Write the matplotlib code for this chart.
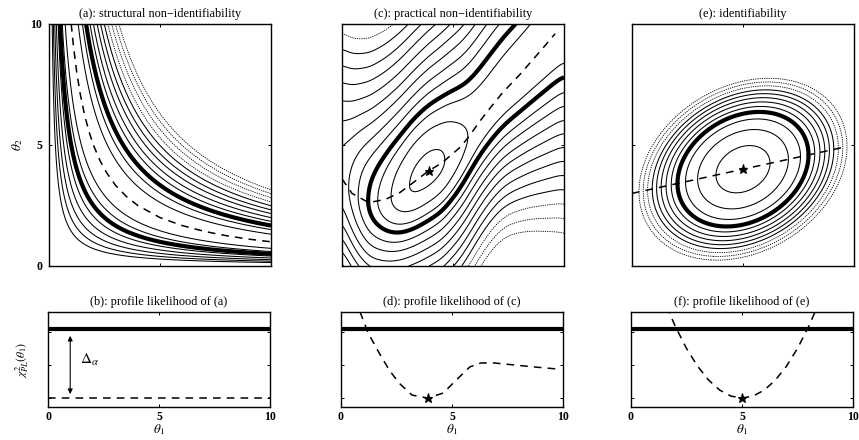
import numpy as np
import matplotlib
matplotlib.use("Agg")
import matplotlib.pyplot as plt

plt.rcParams['font.family'] = ['Liberation Serif', 'DejaVu Serif']
plt.rcParams['mathtext.fontset'] = 'stix'

# ---------------- data ----------------
THRESH = 2.09                     # Delta_alpha, thick threshold line

# (a) structural non-identifiability: ridge theta1*theta2 = const
a_ridge_prod = 10.0
a_width = 0.926                   # spread in sqrt(theta1*theta2) at threshold
a_levels_upper = [0.25, 0.6, 1.5, 2.0, 2.6, 3.2, 3.9]          # units of threshold
a_levels_upper_faint = [4.6, 5.4, 6.2, 7.0]
a_levels_lower = [0.25, 0.6, 1.5, 2.1, 2.8, 3.6, 4.5]
a_ridge_x = [1.0, 1.1, 1.25, 1.4, 1.6, 1.8, 2.0, 2.3, 2.6, 3.0, 3.5, 4.0, 5.0, 6.0, 7.0, 8.0, 9.0, 10.0]
a_ridge_y = [10.0, 9.09, 8.0, 7.14, 6.25, 5.56, 5.0, 4.35, 3.85, 3.33, 2.86, 2.5, 2.0, 1.67, 1.43, 1.25, 1.11, 1.0]

# (b) profile of (a): flat
b_x = [0.0, 10.0]
b_y = [0.0, 0.0]

# (c)/(d) practical non-identifiability: profile value g and profile path h
c_prof_x = [0.0, 0.3, 0.7, 0.86, 1.22, 1.72, 2.17, 2.62, 3.2, 3.9, 4.6, 5.2, 5.8, 6.3, 6.9, 7.8, 8.7, 9.7, 10.0]
c_prof_y = [4.6, 3.9, 2.95, 2.6, 1.97, 1.36, 0.85, 0.45, 0.09, 0.0, 0.15, 0.55, 0.94, 1.06, 1.06, 1.0, 0.94, 0.88, 0.87]
c_path_x = [0.0, 0.45, 1.2, 1.95, 2.6, 3.2, 3.9, 4.5, 5.34, 5.7, 6.24, 6.7, 7.24, 8.0, 9.0, 9.6, 10.0]
c_path_y = [3.6, 3.0, 2.62, 2.75, 3.03, 3.44, 3.93, 4.26, 4.92, 5.33, 6.02, 6.56, 7.17, 7.9, 8.95, 9.6, 10.0]
c_curv_x = [0.0, 2.5, 4.0, 5.5, 7.0, 8.5, 10.0]
c_curv_up = [0.3, 0.3, 0.28, 0.23, 0.2, 0.22, 0.25]
c_curv_low = [0.6, 0.6, 0.47, 0.5, 0.6, 0.4, 0.25]
c_levels = [0.1, 0.4, 0.72, 1.4, 1.85, 2.4, 3.0, 3.7, 4.5, 5.4, 6.4]
c_levels_faint = [7.5, 8.7, 10.0]
c_best = (3.9, 3.93)

# (e)/(f) identifiability: quadratic bowl
e_center = (5.0, 4.0)
e_quad = (0.256, -0.0796, 0.398)          # a, b, c
e_levels = [0.17, 0.48, 0.77, 1.2, 1.38, 1.56, 1.74, 1.92]
e_levels_faint = [2.12, 2.32, 2.52]
e_path_x = [0.0, 9.5]
e_path_y = [3.0, 4.9]
f_x = [1.6, 2.0, 2.5, 3.0, 3.5, 4.0, 4.5, 5.0, 5.5, 6.0, 6.5, 7.0, 7.5, 8.0, 8.4]
f_y = [2.77, 2.16, 1.5, 0.96, 0.54, 0.24, 0.06, 0.0, 0.06, 0.24, 0.54, 0.96, 1.5, 2.16, 2.77]

ticks = [0, 5, 10]
tick_labels = ['0', '5', '10']

# ---------------- helpers ----------------
grid = np.linspace(0, 10, 401)
T1, T2 = np.meshgrid(grid, grid)


def smooth_on_grid(xp, yp, sigma=0.25):
    y = np.interp(grid, xp, yp)
    step = grid[1] - grid[0]
    n = int(4 * sigma / step)
    k = np.exp(-0.5 * (np.arange(-n, n + 1) * step / sigma) ** 2)
    k /= k.sum()
    ypad = np.pad(y, n, mode='edge')
    return np.convolve(ypad, k, mode='valid')


def style_box(ax, ylim, yt):
    ax.set_xlim(0, 10)
    ax.set_ylim(*ylim)
    ax.set_xticks(ticks)
    ax.set_yticks(yt)
    ax.tick_params(direction='in', length=2.5, width=0.7, top=True, right=True,
                   labelsize=8.5)
    for s in ax.spines.values():
        s.set_linewidth(1.0)


fig = plt.figure(figsize=(8.59, 4.40), dpi=100)
W = 222 / 859
top_b, top_h = 174 / 440, 242 / 440
bot_b, bot_h = 33 / 440, 95 / 440
lefts = [49 / 859, 342 / 859, 632 / 859]

thin_kw = dict(colors='k', linewidths=0.75)
faint_kw = dict(colors='k', linewidths=0.6, linestyles=[(0, (1.5, 1.2))])
thick_kw = dict(colors='k', linewidths=3.0)
dash_kw = dict(color='k', lw=1.1, ls=(0, (5, 4)))
title_fs = 8.8

# (a)
ax = fig.add_axes([lefts[0], top_b, W, top_h])
qa_dev = (np.sqrt(T1 * T2) - np.sqrt(a_ridge_prod)) / a_width
Za = qa_dev ** 2
Za_up = np.where(qa_dev >= 0, Za, np.nan)
ax.contour(T1, T2, Za_up, levels=a_levels_upper, **thin_kw)
ax.contour(T1, T2, Za_up, levels=a_levels_upper_faint, **faint_kw)
ax.contour(T1, T2, np.where(qa_dev < 0, Za, np.nan), levels=a_levels_lower, **thin_kw)
ax.contour(T1, T2, Za, levels=[1.0], **thick_kw)
ax.plot(a_ridge_x, a_ridge_y, **dash_kw)
style_box(ax, (0, 10), ticks)
ax.set_xticklabels([])
ax.set_yticklabels(tick_labels, fontweight='bold')
ax.tick_params(axis='y', pad=5)
ax.set_title('(a): structural non\u2212identifiability', fontsize=title_fs, pad=5)

# (c)
ax = fig.add_axes([lefts[1], top_b, W, top_h])
g = smooth_on_grid(c_prof_x, c_prof_y)
h = smooth_on_grid(c_path_x, c_path_y)
wu = smooth_on_grid(c_curv_x, c_curv_up, sigma=0.6)
wl = smooth_on_grid(c_curv_x, c_curv_low, sigma=0.6)
dev = T2 - h[None, :]
wfield = np.where(dev >= 0, wu[None, :], wl[None, :])
Zc = (g[None, :] + wfield * dev ** 2) / THRESH
ax.contour(T1, T2, Zc, levels=c_levels, **thin_kw)
ax.contour(T1, T2, Zc, levels=c_levels_faint, **faint_kw)
ax.contour(T1, T2, Zc, levels=[1.0], **thick_kw)
ax.plot(c_path_x[:-1], c_path_y[:-1], **dash_kw)
ax.plot(*c_best, marker='*', color='k', ms=6.5, mew=0.8)
style_box(ax, (0, 10), ticks)
ax.set_xticklabels([]); ax.set_yticklabels([])
ax.set_title('(c): practical non\u2212identifiability', fontsize=title_fs, pad=5)

# (e)
ax = fig.add_axes([lefts[2], top_b, W, top_h])
qa, qb, qc = e_quad
dx = T1 - e_center[0]
dy = T2 - e_center[1]
Ze = (qa * dx ** 2 + 2 * qb * dx * dy + qc * dy ** 2) / THRESH
ax.contour(T1, T2, Ze, levels=e_levels, **thin_kw)
ax.contour(T1, T2, Ze, levels=e_levels_faint, **faint_kw)
ax.contour(T1, T2, Ze, levels=[1.0], **thick_kw)
ax.plot(e_path_x, e_path_y, **dash_kw)
ax.plot(*e_center, marker='*', color='k', ms=6.5, mew=0.8)
style_box(ax, (0, 10), ticks)
ax.set_xticklabels([]); ax.set_yticklabels([])
ax.set_title('(e): identifiability', fontsize=title_fs, pad=5)

# bottom row
bot_ylim = (-0.27, 2.6)
bot_yt = [0, 1, 2]
titles_b = ['(b): profile likelihood of (a)', '(d): profile likelihood of (c)',
            '(f): profile likelihood of (e)']
for i in range(3):
    ax = fig.add_axes([lefts[i] - 1 / 859, bot_b, W, bot_h])
    ax.axhline(THRESH, color='k', lw=3.0)
    if i == 0:
        ax.plot(b_x, b_y, **dash_kw)
        ax.annotate('', xy=(1.0, 0.12), xytext=(1.0, 1.88),
                    arrowprops=dict(arrowstyle='<|-|>', lw=0.8, color='k',
                                    mutation_scale=7, shrinkA=0, shrinkB=0))
        ax.text(1.45, 1.15, r'$\Delta_\alpha$', fontsize=11, va='center', ha='left')
    elif i == 1:
        ax.plot(c_prof_x[:-1], c_prof_y[:-1], **dash_kw)
        ax.plot(c_best[0], 0.0, marker='*', color='k', ms=6.5, mew=0.8)
    else:
        ax.plot(f_x, f_y, **dash_kw)
        ax.plot(e_center[0], 0.0, marker='*', color='k', ms=6.5, mew=0.8)
    style_box(ax, bot_ylim, bot_yt)
    ax.set_yticklabels([])
    ax.set_xticklabels(tick_labels, fontweight='bold')
    ax.tick_params(axis='x', pad=3)
    ax.set_title(titles_b[i], fontsize=title_fs, pad=5)
    cx = lefts[i] - 1 / 859 + W / 2
    fig.text(cx, 1 - 430 / 440, r'$\theta_1$', ha='center', va='center', fontsize=9.5)

fig.text(18 / 859, 1 - 145 / 440, r'$\theta_2$', rotation=90, ha='center', va='center', fontsize=9.5)
fig.text(22 / 859, 1 - 360 / 440, r'$\chi^2_{PL}(\theta_1)$', rotation=90,
         ha='center', va='center', fontsize=8.5)

fig.savefig('out.png', dpi=100)
